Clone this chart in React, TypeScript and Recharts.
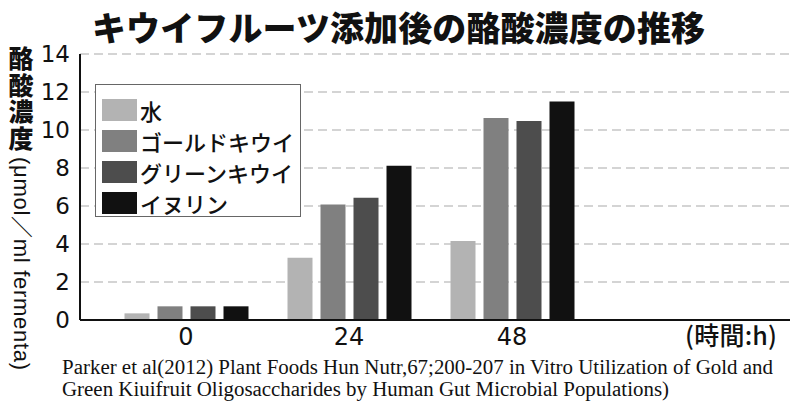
import React from 'react'
import { BarChart, Bar, XAxis, YAxis, CartesianGrid } from 'recharts'

document.body.style.margin = '0'

const hours = ['0', '24', '48']
const water = [0.35, 3.28, 4.16]
const goldKiwi = [0.72, 6.08, 10.63]
const greenKiwi = [0.72, 6.44, 10.47]
const inulin = [0.72, 8.12, 11.5]
const yTicks = [0, 2, 4, 6, 8, 10, 12, 14]

const SERIES = [
  { key: 'water', name: '水', color: '#b3b3b3' },
  { key: 'gold', name: 'ゴールドキウイ', color: '#808080' },
  { key: 'green', name: 'グリーンキウイ', color: '#4d4d4d' },
  { key: 'inulin', name: 'イヌリン', color: '#111111' },
]

const data = hours.map((h, i) => ({
  hour: h,
  water: water[i],
  gold: goldKiwi[i],
  green: greenKiwi[i],
  inulin: inulin[i],
}))

const JP = '"Noto Sans CJK JP", "Noto Sans", sans-serif'
const NUM = '"DejaVu Sans", sans-serif'
const SERIF = '"Liberation Serif", serif'

// legend box sits inside the plot, top-left, like the printed figure
function BoxLegend() {
  return (
    <div
      style={{
        position: 'absolute',
        left: 95,
        top: 84,
        width: 206,
        height: 133,
        border: '1px solid #666',
        background: '#fff',
        boxSizing: 'border-box',
        padding: '9px 0 0 6px',
      }}
    >
      {SERIES.map((s) => (
        <div key={s.key} style={{ display: 'flex', alignItems: 'center', height: 31 }}>
          <span style={{ width: 35, height: 22, background: s.color, display: 'inline-block' }} />
          <span
            style={{ fontFamily: JP, fontSize: 22, fontWeight: 500, marginLeft: 3, color: '#111', lineHeight: '22px' }}
          >
            {s.name}
          </span>
        </div>
      ))}
    </div>
  )
}

export default function App() {
  return (
    <div style={{ position: 'relative', width: 800, height: 410, background: '#fff' }}>
      <BarChart
        width={800}
        height={410}
        data={data}
        margin={{ top: 54, right: 10, bottom: 0, left: 0 }}
        barSize={25}
        barGap={8}
      >
        <CartesianGrid vertical={false} stroke="#aaaaaa" strokeDasharray="9 5" strokeWidth={1.2} />
        <XAxis
          dataKey="hour"
          height={90}
          padding={{ left: 24.5, right: 196.5 }}
          axisLine={{ stroke: '#111', strokeWidth: 2 }}
          tickLine={false}
          tick={{ fontSize: 24, fill: '#111', fontFamily: NUM }}
          tickMargin={2}
        />
        <YAxis
          width={80}
          domain={[0, 14]}
          ticks={yTicks}
          interval={0}
          axisLine={{ stroke: '#111', strokeWidth: 2 }}
          tickLine={false}
          tick={{ fontSize: 23, fill: '#111', fontFamily: NUM }}
          tickMargin={4}
        />
        {SERIES.map((s) => (
          <Bar key={s.key} dataKey={s.key} name={s.name} fill={s.color} isAnimationActive={false} />
        ))}
      </BarChart>

      <BoxLegend />

      <svg
        width={800}
        height={410}
        style={{ position: 'absolute', left: 0, top: 0, pointerEvents: 'none' }}
      >
        <text x={92} y={41} fontFamily={JP} fontWeight={900} fontSize={34} fill="#111" textLength={613}>
          キウイフルーツ添加後の酪酸濃度の推移
        </text>

        {/* axis title: upright kanji stacked, then the unit turned sideways */}
        <text
          x={21}
          y={46}
          style={{ writingMode: 'vertical-rl' }}
          fontFamily={JP}
          fontWeight={900}
          fontSize={25}
          letterSpacing={1.5}
          fill="#111"
        >
          酪酸濃度
        </text>
        <text
          transform="translate(14,157) rotate(90)"
          fontFamily={'"Liberation Sans", "Noto Sans CJK JP", sans-serif'}
          fontSize={22}
          fill="#111"
          textLength={213}
        >
          (μmol／ml fermenta)
        </text>

        <text x={685} y={345} fontFamily={JP} fontWeight={500} fontSize={25} fill="#111" textLength={92}>
          (時間:h)
        </text>

        <text x={62} y={374} fontFamily={SERIF} fontSize={20} fill="#111" textLength={711} lengthAdjust="spacingAndGlyphs">
          Parker et al(2012) Plant Foods Hun Nutr,67;200-207 in Vitro Utilization of Gold and
        </text>
        <text x={62} y={396} fontFamily={SERIF} fontSize={20} fill="#111" textLength={607} lengthAdjust="spacingAndGlyphs">
          Green Kiuifruit Oligosaccharides by Human Gut Microbial Populations)
        </text>
      </svg>
    </div>
  )
}
